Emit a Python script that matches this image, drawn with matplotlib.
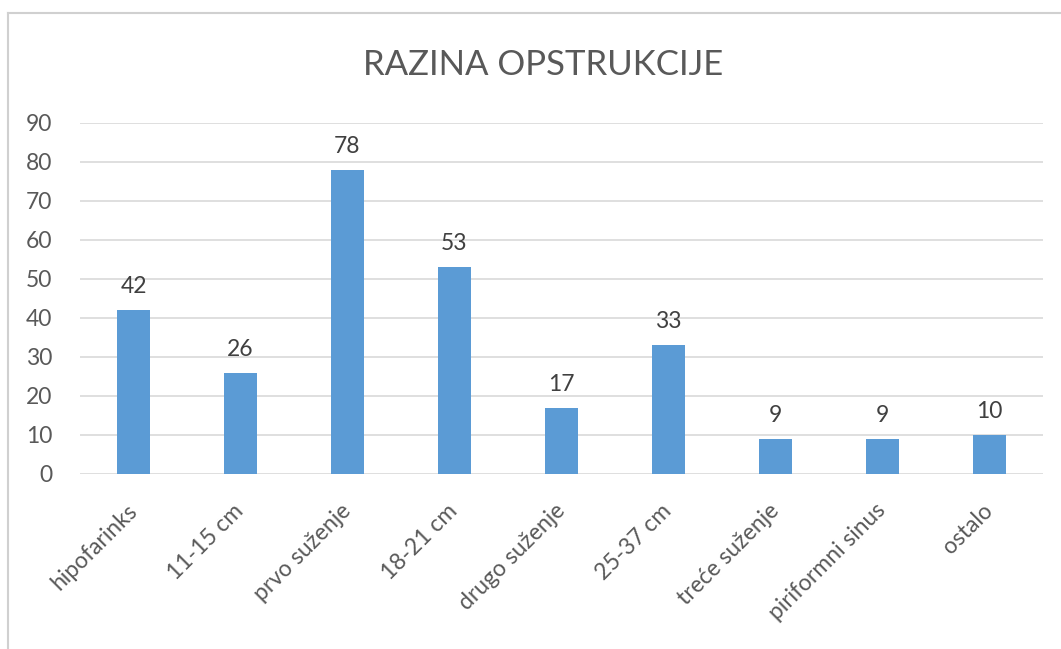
import matplotlib
matplotlib.use("Agg")
import matplotlib.pyplot as plt
from matplotlib.lines import Line2D

plt.rcParams['font.family'] = ['Lato', 'DejaVu Sans']

# Data
categories = ["hipofarinks", "11-15 cm", "prvo suženje", "18-21 cm", "drugo suženje",
              "25-37 cm", "treće suženje", "piriformni sinus", "ostalo"]
values = [42, 26, 78, 53, 17, 33, 9, 9, 10]
yticks = [0, 10, 20, 30, 40, 50, 60, 70, 80, 90]

fig = plt.figure(figsize=(10.61, 6.49), dpi=100)
ax = fig.add_axes([0.0754, 0.2697, 0.9076, 0.5408])

x = range(len(categories))
bars = ax.bar(x, values, width=0.31, color="#5B9BD5", zorder=3)

for b, v in zip(bars, values):
    ax.text(b.get_x() + b.get_width() / 2, v + 3.3, str(v), ha="center", va="bottom",
            fontsize=16.5, color="#404040")

ax.set_xlim(-0.5, len(categories) - 0.5)
ax.set_ylim(0, 90)
ax.set_yticks(yticks)
ax.set_yticklabels([str(t) for t in yticks], fontsize=16.5, color="#595959")
ax.set_xticks(list(x))
ax.set_xticklabels(categories, rotation=45, ha="right", va="center", rotation_mode="anchor",
                   fontsize=16.5, color="#595959")
ax.tick_params(axis="y", length=0, pad=20)
ax.tick_params(axis="x", length=0, pad=24)
ax.yaxis.grid(True, color="#D9D9D9", linewidth=1.2, zorder=0)
for s in ax.spines.values():
    s.set_visible(False)

fig.text(0.512, 0.9, "RAZINA OPSTRUKCIJE", ha="center", va="center",
         fontsize=25, color="#595959")

# outer chart frame (left and top edges visible)
fig.add_artist(Line2D([8 / 1061, 8 / 1061], [0, 1 - 13 / 649], color="#D0D0D0", lw=1.5))
fig.add_artist(Line2D([8 / 1061, 1], [1 - 13 / 649, 1 - 13 / 649], color="#D0D0D0", lw=1.5))

fig.savefig("out.png", dpi=100)
